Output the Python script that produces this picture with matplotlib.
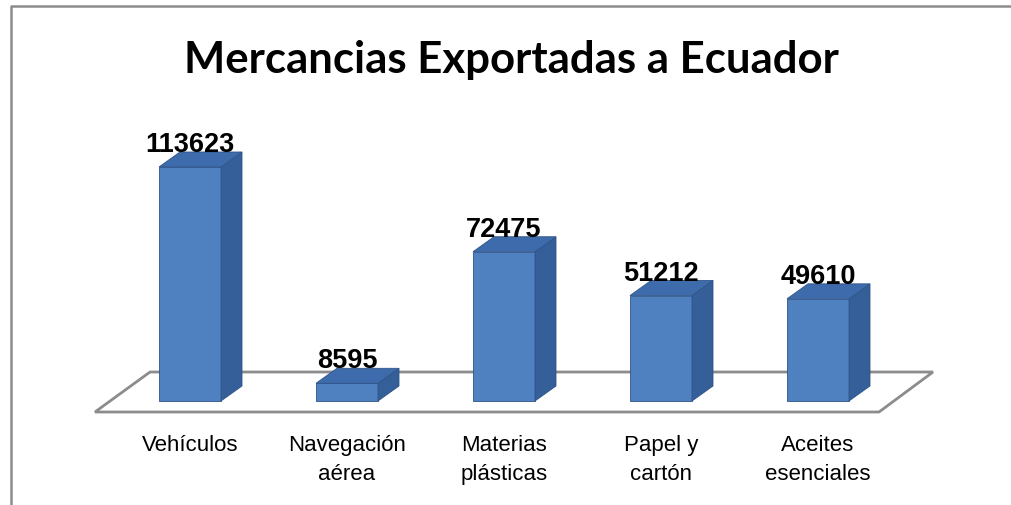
import matplotlib
matplotlib.use("Agg")
import matplotlib.pyplot as plt
from matplotlib.patches import Polygon
from matplotlib.lines import Line2D

# Export values per product group
categories = ["Vehículos", "Navegación\naérea", "Materias\nplásticas", "Papel y\ncartón", "Aceites\nesenciales"]
values = [113623, 8595, 72475, 51212, 49610]

W, H = 1011, 506
fig = plt.figure(figsize=(W / 100, H / 100), dpi=100)

# axes geometry in pixels: category spacing and value scale
x0_px, step_px = 190, 157
base_px = 402
top_val = 130000
px_per_val = 234 / 113623
ax_h = top_val * px_per_val
ax = fig.add_axes([(x0_px - step_px / 2) / W, (H - base_px) / H,
                   5 * step_px / W, ax_h / H])
ax.set_xlim(-0.5, 4.5)
ax.set_ylim(0, top_val)
ax.axis("off")

def px_x(p):
    return p / step_px

def px_y(p):
    return p / px_per_val

bar_w = px_x(62)
dx, dy = px_x(21), px_y(15)

front_col = "#4f81c0"
top_col = "#3e6bab"
side_col = "#355f98"
edge_col = "#2f5489"

# floor parallelogram
floor = [(px_x(95 - x0_px), -px_y(11)), (px_x(150 - x0_px), px_y(29)),
         (px_x(933 - x0_px), px_y(29)), (px_x(879 - x0_px), -px_y(11))]
ax.add_patch(Polygon(floor, closed=True, facecolor="white", edgecolor="#8c8c8c",
                     linewidth=2, clip_on=False, zorder=1))

xs = range(len(values))
ax.bar(xs, values, width=bar_w, color=front_col, edgecolor=edge_col,
       linewidth=0.6, zorder=3, clip_on=False)
for i, v in zip(xs, values):
    l, r = i - bar_w / 2, i + bar_w / 2
    side = [(r, 0), (r + dx, dy), (r + dx, v + dy), (r, v)]
    top = [(l, v), (l + dx, v + dy), (r + dx, v + dy), (r, v)]
    ax.add_patch(Polygon(side, closed=True, facecolor=side_col, edgecolor=edge_col,
                         linewidth=0.6, zorder=3, clip_on=False))
    ax.add_patch(Polygon(top, closed=True, facecolor=top_col, edgecolor=edge_col,
                         linewidth=0.6, zorder=3, clip_on=False))
    ax.annotate(f"{v}", (i, v + dy), xytext=(0, 1), textcoords="offset pixels",
                ha="center", va="baseline", fontsize=19.5, fontweight="bold",
                family=["Liberation Sans", "DejaVu Sans"], color="black", zorder=5)

for i, lab in zip(xs, categories):
    ax.annotate(lab, (i, 0), xytext=(0, -33), textcoords="offset pixels",
                ha="center", va="top", fontsize=16, linespacing=1.5,
                family=["Liberation Sans", "DejaVu Sans"],
                annotation_clip=False)

fig.text(511 / W, 1 - 73 / H, "Mercancias Exportadas a Ecuador", ha="center", va="baseline",
         fontsize=31.5, fontweight="bold", family=["Lato", "DejaVu Sans"])

# chart frame on the top and left
fig.add_artist(Line2D([11 / W, 11 / W, 1], [0, 1 - 7 / H, 1 - 7 / H],
                      transform=fig.transFigure, color="#8c8c8c", linewidth=1.8))

fig.savefig("out.png", dpi=100)
